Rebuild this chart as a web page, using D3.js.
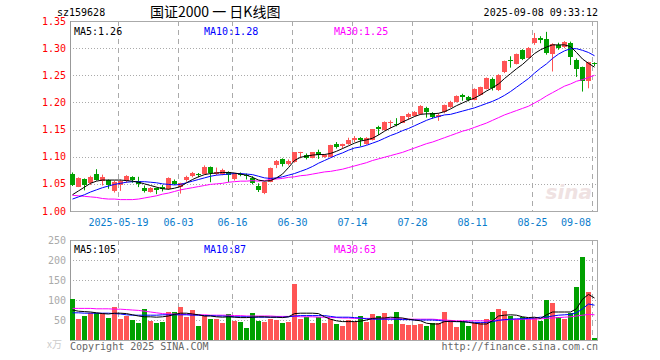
<!DOCTYPE html>
<meta charset="utf-8">
<script src="https://cdn.jsdelivr.net/npm/d3@7"></script>
<style>
body{margin:0;background:#fff;}
svg text{font-family:"DejaVu Sans Mono",monospace;font-size:10px;}
</style>
<svg id="chart" width="660" height="360"></svg>
<script>
// trading days shown on the chart
const dates = [
  "2025-05-07","2025-05-08","2025-05-09","2025-05-12","2025-05-13","2025-05-14","2025-05-15","2025-05-16",
  "2025-05-19","2025-05-20","2025-05-21","2025-05-22","2025-05-23","2025-05-26","2025-05-27","2025-05-28",
  "2025-05-29","2025-05-30","2025-06-03","2025-06-04","2025-06-05","2025-06-06","2025-06-09","2025-06-10",
  "2025-06-11","2025-06-12","2025-06-13","2025-06-16","2025-06-17","2025-06-18","2025-06-19","2025-06-20",
  "2025-06-23","2025-06-24","2025-06-25","2025-06-26","2025-06-27","2025-06-30","2025-07-01","2025-07-02",
  "2025-07-03","2025-07-04","2025-07-07","2025-07-08","2025-07-09","2025-07-10","2025-07-11","2025-07-14",
  "2025-07-15","2025-07-16","2025-07-17","2025-07-18","2025-07-21","2025-07-22","2025-07-23","2025-07-24",
  "2025-07-25","2025-07-28","2025-07-29","2025-07-30","2025-07-31","2025-08-01","2025-08-04","2025-08-05",
  "2025-08-06","2025-08-07","2025-08-08","2025-08-11","2025-08-12","2025-08-13","2025-08-14","2025-08-15",
  "2025-08-18","2025-08-19","2025-08-20","2025-08-21","2025-08-22","2025-08-25","2025-08-26","2025-08-27",
  "2025-08-28","2025-08-29","2025-09-01","2025-09-02","2025-09-03","2025-09-04","2025-09-05","2025-09-08"];

const open = [1.069,1.045,1.059,1.051,1.069,1.055,1.057,1.037,1.047,1.056,
  1.063,1.056,1.043,1.035,1.042,1.045,1.040,1.055,1.045,1.057,
  1.064,1.068,1.069,1.081,1.068,1.068,1.072,1.059,1.069,1.066,
  1.061,1.046,1.033,1.054,1.085,1.095,1.086,1.090,1.107,1.104,
  1.098,1.108,1.100,1.100,1.123,1.119,1.123,1.131,1.134,1.124,
  1.131,1.155,1.149,1.162,1.161,1.163,1.173,1.175,1.178,1.190,
  1.180,1.174,1.182,1.191,1.201,1.214,1.210,1.205,1.214,1.225,
  1.244,1.222,1.256,1.279,1.271,1.296,1.282,1.310,1.318,1.317,
  1.289,1.305,1.302,1.309,1.279,1.265,1.239,1.272];
const high = [1.071,1.062,1.060,1.065,1.077,1.067,1.058,1.056,1.058,1.066,
  1.064,1.063,1.047,1.044,1.043,1.048,1.062,1.058,1.052,1.065,
  1.072,1.070,1.084,1.082,1.080,1.078,1.073,1.070,1.071,1.069,
  1.064,1.051,1.054,1.080,1.094,1.097,1.095,1.108,1.109,1.106,
  1.108,1.113,1.105,1.122,1.127,1.124,1.135,1.138,1.136,1.136,
  1.151,1.157,1.165,1.167,1.171,1.175,1.181,1.184,1.195,1.192,
  1.182,1.180,1.196,1.203,1.213,1.216,1.212,1.226,1.229,1.246,
  1.246,1.252,1.277,1.285,1.290,1.298,1.302,1.328,1.322,1.330,
  1.309,1.310,1.313,1.312,1.281,1.266,1.275,1.274];
const low = [1.046,1.044,1.038,1.048,1.056,1.047,1.041,1.034,1.037,1.052,
  1.052,1.044,1.034,1.034,1.031,1.036,1.039,1.048,1.032,1.054,
  1.062,1.062,1.067,1.053,1.066,1.066,1.053,1.056,1.064,1.058,
  1.049,1.035,1.031,1.053,1.079,1.082,1.084,1.089,1.097,1.095,
  1.097,1.096,1.098,1.099,1.115,1.115,1.122,1.127,1.119,1.122,
  1.130,1.140,1.148,1.152,1.156,1.162,1.168,1.174,1.177,1.172,
  1.170,1.166,1.180,1.190,1.200,1.203,1.202,1.204,1.213,1.224,
  1.222,1.221,1.254,1.264,1.270,1.278,1.281,1.306,1.309,1.288,
  1.257,1.297,1.300,1.269,1.247,1.220,1.226,1.267];
const close = [1.048,1.061,1.047,1.063,1.057,1.063,1.047,1.054,1.056,1.065,
  1.057,1.050,1.036,1.042,1.039,1.040,1.061,1.049,1.051,1.063,
  1.070,1.067,1.081,1.070,1.072,1.076,1.066,1.069,1.068,1.065,
  1.051,1.039,1.054,1.080,1.093,1.086,1.092,1.108,1.108,1.097,
  1.108,1.103,1.104,1.122,1.118,1.123,1.131,1.134,1.131,1.135,
  1.151,1.151,1.164,1.164,1.158,1.175,1.178,1.183,1.194,1.182,
  1.173,1.177,1.195,1.201,1.211,1.210,1.204,1.225,1.228,1.245,
  1.227,1.251,1.276,1.278,1.289,1.280,1.301,1.319,1.315,1.291,
  1.307,1.300,1.311,1.283,1.261,1.239,1.274,1.270];

// price moving averages as drawn
const ma5 = [1.030,1.037,1.044,1.051,1.055,1.057,1.057,1.057,1.057,1.056,
  1.055,1.053,1.050,1.047,1.044,1.041,1.040,1.042,1.045,1.052,
  1.058,1.063,1.067,1.069,1.070,1.071,1.071,1.070,1.068,1.066,
  1.062,1.057,1.055,1.056,1.061,1.068,1.080,1.093,1.099,1.101,
  1.103,1.104,1.104,1.106,1.110,1.115,1.120,1.125,1.129,1.131,
  1.134,1.140,1.147,1.153,1.158,1.164,1.169,1.174,1.178,1.179,
  1.179,1.180,1.183,1.188,1.194,1.199,1.204,1.208,1.214,1.221,
  1.227,1.234,1.244,1.253,1.262,1.270,1.280,1.290,1.297,1.302,
  1.306,1.306,1.306,1.303,1.292,1.280,1.272,1.265];
const ma10 = [1.022,1.026,1.030,1.035,1.039,1.043,1.046,1.049,1.051,1.053,
  1.054,1.054,1.054,1.053,1.052,1.050,1.049,1.048,1.049,1.052,
  1.055,1.058,1.061,1.064,1.066,1.067,1.068,1.069,1.069,1.068,
  1.067,1.064,1.061,1.060,1.061,1.063,1.066,1.069,1.073,1.077,
  1.082,1.088,1.093,1.098,1.103,1.107,1.112,1.116,1.118,1.121,
  1.125,1.129,1.134,1.139,1.143,1.148,1.152,1.157,1.162,1.167,
  1.171,1.174,1.177,1.178,1.181,1.184,1.187,1.190,1.194,1.198,
  1.202,1.207,1.213,1.220,1.228,1.236,1.244,1.254,1.263,1.271,
  1.281,1.289,1.295,1.299,1.299,1.296,1.292,1.286];
const ma30 = [1.029,1.028,1.027,1.026,1.025,1.023,1.022,1.022,1.021,1.021,
  1.021,1.022,1.024,1.026,1.028,1.031,1.033,1.036,1.039,1.041,
  1.043,1.045,1.047,1.049,1.050,1.051,1.053,1.054,1.055,1.055,
  1.056,1.055,1.056,1.058,1.059,1.060,1.062,1.063,1.065,1.066,
  1.068,1.070,1.072,1.073,1.075,1.077,1.080,1.083,1.086,1.089,
  1.093,1.096,1.099,1.102,1.105,1.108,1.112,1.116,1.120,1.124,
  1.127,1.131,1.135,1.139,1.143,1.147,1.150,1.154,1.158,1.162,
  1.167,1.172,1.177,1.181,1.185,1.189,1.193,1.199,1.205,1.212,
  1.218,1.224,1.230,1.234,1.239,1.242,1.246,1.250];

// volume (10k lots) and its moving averages
const volume = [102,52,60,67,68,68,56,82,53,61,
  50,43,78,48,43,46,70,70,83,57,
  75,36,61,52,53,43,65,47,45,31,
  67,47,46,52,50,42,46,140,52,58,
  42,58,42,53,40,35,50,46,60,46,
  65,60,67,40,70,40,37,38,40,35,
  42,42,70,50,32,46,35,42,42,52,
  70,78,72,60,52,58,52,55,48,100,
  93,57,52,68,132,207,120,5];
const vma5 = [75,72,71,70,68,66,65,67,67,66,
  63,60,58,58,57,58,60,64,67,67,
  65,63,60,60,58,57,58,57,56,56,
  57,58,58,57,57,56,58,66,67,67,
  67,66,58,52,48,46,46,46,47,50,
  54,55,55,57,56,55,52,50,48,42,
  40,40,46,47,46,46,44,42,40,40,
  48,60,62,63,62,58,56,57,54,63,
  70,70,70,70,78,102,114,105];
const vma10 = [68,68,67,67,67,67,67,66,65,63,
  62,62,62,62,62,63,63,63,63,63,
  62,62,61,61,60,60,59,58,58,58,
  57,57,57,57,57,57,58,60,61,61,
  61,61,61,59,57,57,57,56,55,53,
  52,52,52,52,52,51,51,50,50,50,
  50,49,47,46,46,46,45,44,44,44,
  46,49,51,52,53,53,54,55,57,57,
  60,62,63,64,68,78,90,87];
const vma30 = [79,79,79,79,78,78,78,77,77,76,
  75,74,72,70,68,66,65,65,64,64,
  64,63,63,62,62,62,62,61,61,60,
  60,60,60,60,59,59,59,59,58,58,
  58,57,57,56,56,55,55,54,54,54,
  54,53,53,53,53,53,52,52,52,52,
  52,51,50,49,48,48,48,48,48,48,
  49,50,50,51,51,52,52,52,53,54,
  55,56,57,58,60,62,64,63];

const tickDates = ["2025-05-19","2025-06-03","2025-06-16","2025-06-30","2025-07-14",
  "2025-07-28","2025-08-11","2025-08-25","2025-09-08"];
const priceTicks = [1.00,1.05,1.10,1.15,1.20,1.25,1.30,1.35];
const volTicks = [0,50,100,150,200,250];

const RED = "#ff5555", GREEN = "#00a000";

const svg = d3.select("#chart");
const left = 70, right = 598;

const x = d3.scaleBand().domain(dates).range([left, right - 1]).paddingInner(1/6).paddingOuter(0);
const cx = d => x(d) + x.bandwidth() / 2;
const y = d3.scaleLinear().domain([1.00, 1.35]).range([211, 21]);
const yv = d3.scaleLinear().domain([0, 250]).range([340, 240]);

const bars = dates.map((d, i) => ({d, o: open[i], h: high[i], l: low[i], c: close[i], v: volume[i]}));
const col = b => b.c >= b.o ? RED : GREEN;

// header
svg.append("text").attr("x", 57).attr("y", 16).attr("font-size", 11).text("sz159628");
svg.append("text").attr("x", 150).attr("y", 17)
  .style("font-family", "'Noto Sans CJK SC','DejaVu Sans',sans-serif").style("font-size", "14px")
  .attr("xml:space", "preserve").style("white-space", "pre")
  .text("国证2000 一 日K线图");
svg.append("text").attr("x", 598).attr("y", 16).attr("text-anchor", "end").attr("font-size", 11)
  .text("2025-09-08 09:33:12");

function panel(top, bottom, yScale, ticks, labels, tickColor, fmt) {
  const g = svg.append("g");
  g.selectAll(".hg").data(ticks.slice(1, -1)).enter().append("line")
    .attr("x1", left).attr("x2", right)
    .attr("y1", d => Math.round(yScale(d)) + 0.5).attr("y2", d => Math.round(yScale(d)) + 0.5)
    .attr("stroke", "#aaa").attr("stroke-dasharray", "1,2");
  g.selectAll(".vg").data(tickDates).enter().append("line")
    .attr("x1", d => Math.floor(cx(d)) - 1.5).attr("x2", d => Math.floor(cx(d)) - 1.5)
    .attr("y1", top).attr("y2", bottom)
    .attr("stroke", "#aaa").attr("stroke-dasharray", "5,4");
  g.append("rect").attr("x", left + 0.5).attr("y", top + 0.5)
    .attr("width", right - left - 1).attr("height", bottom - top)
    .attr("fill", "none").attr("stroke", "#aaa");
  g.append("line").attr("x1", left + 0.5).attr("x2", left + 0.5).attr("y1", top).attr("y2", bottom + 1)
    .attr("stroke", "#999");
  g.selectAll(".tl").data(labels).enter().append("text")
    .attr("x", 66).attr("y", d => yScale(d)).attr("dy", "0.35em")
    .attr("text-anchor", "end").attr("font-size", 11).attr("fill", tickColor).text(fmt);
  return g;
}

panel(21, 211, y, priceTicks, priceTicks, "#ff0000", d3.format(".2f"));
panel(240, 340, yv, volTicks, volTicks.filter(d => d > 0), "#aaa", d => d);

// date labels (last one kept inside the box)
const last = tickDates.length - 1;
svg.selectAll(".dl").data(tickDates).enter().append("text")
  .attr("x", (d, i) => i === last ? 591 : cx(d) - 2)
  .attr("y", 226)
  .attr("text-anchor", (d, i) => i === last ? "end" : "middle")
  .attr("fill", "#0a7ccc")
  .text((d, i) => i === 0 ? d : d.slice(5));

// candles
const cg = svg.append("g");
cg.selectAll("line").data(bars).enter().append("line")
  .attr("x1", b => Math.floor(cx(b.d)) + 0.5).attr("x2", b => Math.floor(cx(b.d)) + 0.5)
  .attr("y1", b => y(b.h)).attr("y2", b => y(b.l))
  .attr("stroke", col);
cg.selectAll("rect").data(bars).enter().append("rect")
  .attr("x", b => x(b.d)).attr("width", x.bandwidth())
  .attr("y", b => y(Math.max(b.o, b.c)))
  .attr("height", b => Math.max(1, Math.abs(y(b.o) - y(b.c))))
  .attr("fill", col).attr("shape-rendering", "crispEdges");

// price MAs
const line = (arr, sc) => d3.line().x((v, i) => cx(dates[i])).y(v => sc(v))(arr);
[[ma30, "#ff00ff"], [ma10, "#0000ff"], [ma5, "#000"]].forEach(([arr, c]) => {
  svg.append("path").attr("d", line(arr, y)).attr("fill", "none").attr("stroke", c).attr("stroke-width", 1);
});

// volume bars
svg.append("g").selectAll("rect").data(bars).enter().append("rect")
  .attr("x", b => x(b.d)).attr("width", x.bandwidth())
  .attr("y", b => yv(b.v)).attr("height", b => yv(0) - yv(b.v))
  .attr("fill", col).attr("shape-rendering", "crispEdges");

[[vma30, "#ff00ff"], [vma10, "#0000ff"], [vma5, "#000"]].forEach(([arr, c]) => {
  svg.append("path").attr("d", line(arr, yv)).attr("fill", "none").attr("stroke", c).attr("stroke-width", 1);
});

// legends
const legend = (yy, items) => items.forEach(([tx, xx, c]) =>
  svg.append("text").attr("x", xx).attr("y", yy).attr("fill", c).attr("font-size", 11).text(tx));
legend(35, [["MA5:1.26", 74, "#000"], ["MA10:1.28", 204, "#0000ff"], ["MA30:1.25", 334, "#ff00ff"]]);
legend(253, [["MA5:105", 74, "#000"], ["MA10:87", 204, "#0000ff"], ["MA30:63", 334, "#ff00ff"]]);

// watermark
svg.append("text").attr("x", 592).attr("y", 199).attr("text-anchor", "end")
  .style("font-family", "'DejaVu Sans',sans-serif").style("font-size", "20px")
  .style("font-style", "italic").style("font-weight", "bold")
  .attr("fill", "#efe2e2").text("sina");

// footer
svg.append("text").attr("x", 62).attr("y", 348).attr("text-anchor", "end")
  .style("font-family", "'Noto Sans CJK SC',sans-serif").attr("fill", "#ccc").text("x万");
svg.append("text").attr("x", 70).attr("y", 350).attr("fill", "#666").attr("font-size", 11)
  .text("Copyright 2025 SINA.COM");
svg.append("text").attr("x", 598).attr("y", 350).attr("text-anchor", "end").attr("fill", "#666")
  .attr("font-size", 11).text("http://finance.sina.com.cn");
</script>
